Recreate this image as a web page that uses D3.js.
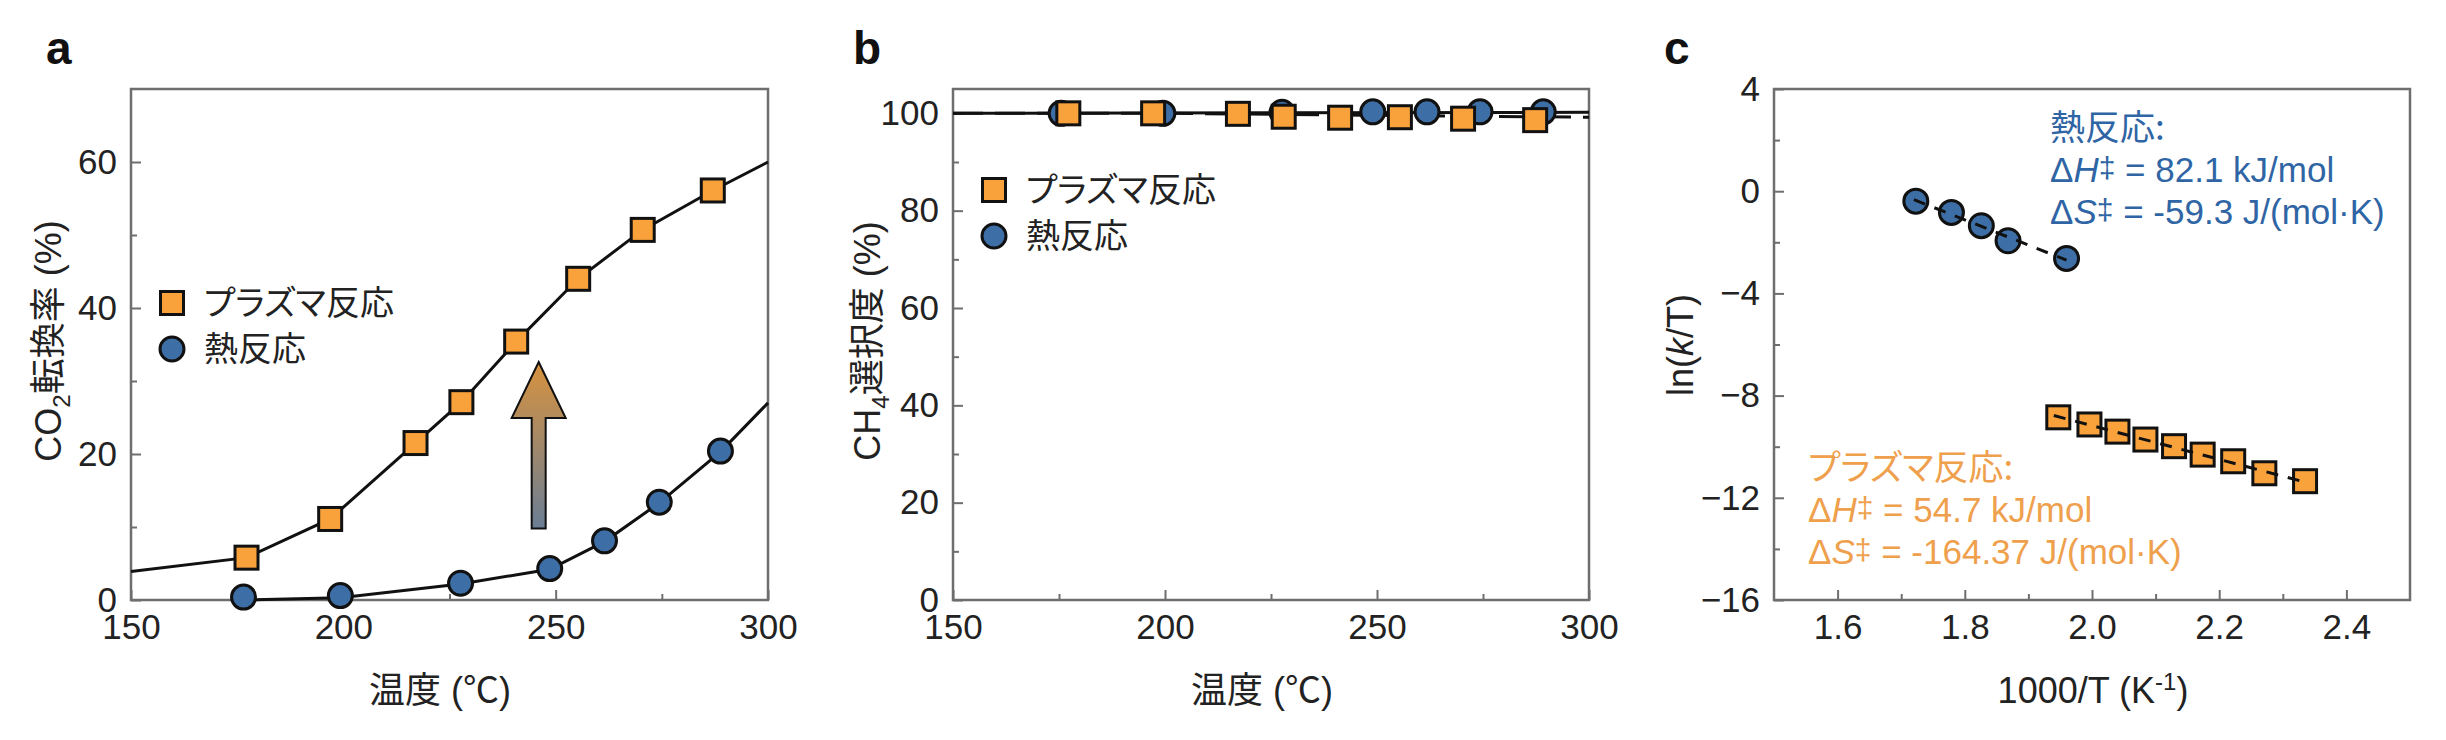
<!DOCTYPE html>
<html><head><meta charset="utf-8">
<script src="https://cdn.jsdelivr.net/npm/d3@7"></script>
<style>
html,body{margin:0;padding:0;background:#fff;}
svg{display:block;}
text{font-family:'Liberation Sans','Noto Sans CJK JP',sans-serif;}
.jp{font-family:'Noto Sans CJK JP','Liberation Sans',sans-serif;font-feature-settings:"palt";}
</style></head><body>
<svg id="chart" width="2446" height="740"></svg>
<script>
// ---------- data ----------
const tempTicks = [150, 200, 250, 300];
const tempMinor = [175, 225, 275];
const convTicks = [0, 20, 40, 60];
const convMinor = [10, 30, 50];
const selTicks = [0, 20, 40, 60, 80, 100];
const selMinor = [10, 30, 50, 70, 90];
const invTTicks = [1.6, 1.8, 2.0, 2.2, 2.4];
const invTMinor = [1.7, 1.9, 2.1, 2.3];
const lnTicks = [-16, -12, -8, -4, 0, 4];
const lnMinor = [-14, -10, -6, -2, 2];

const seriesNames = ["プラズマ反応", "熱反応"];

// panel a: CO2 conversion
const plasmaTempA = [177.2, 196.9, 217.0, 227.8, 240.7, 255.3, 270.5, 287.0];
const plasmaConv = [5.8, 11.1, 21.5, 27.1, 35.4, 44.0, 50.7, 56.1];
const plasmaCurveT = [150, 177.2, 196.9, 217.0, 227.8, 240.7, 255.3, 270.5, 287.0, 300];
const plasmaCurveV = [3.9, 5.8, 11.1, 21.5, 27.1, 35.4, 44.0, 50.7, 56.1, 60.0];
const thermalTempA = [176.5, 199.3, 227.6, 248.6, 261.5, 274.4, 288.8];
const thermalConv = [0.4, 0.6, 2.3, 4.3, 8.1, 13.4, 20.4];
const thermalCurveT = [176.5, 199.3, 227.6, 248.6, 261.5, 274.4, 288.8, 300];
const thermalCurveV = [0.0, 0.3, 2.2, 4.2, 8.0, 13.3, 20.3, 27.0];
const arrowT = 246, arrowFrom = 9.8, arrowTo = 32.6;

// panel b: CH4 selectivity
const plasmaTempB = [177.2, 197.2, 217.2, 228.0, 241.3, 255.4, 270.3, 287.3];
const plasmaSel = [100.0, 100.0, 99.9, 99.3, 99.1, 99.2, 98.9, 98.6];
const thermalTempB = [175.5, 199.5, 227.6, 249.0, 261.8, 274.3, 289.2];
const thermalSel = [100.0, 100.0, 100.2, 100.3, 100.3, 100.3, 100.3];
const plasmaSelLineT = [150, 200, 300], plasmaSelLineV = [100.0, 100.0, 99.2];
const thermalSelLineT = [150, 300], thermalSelLineV = [100.0, 100.2];

// panel c: Eyring plot
const thermalInvT = [1.723, 1.779, 1.826, 1.868, 1.960];
const thermalLn = [-0.39, -0.83, -1.35, -1.94, -2.63];
const thermalFitX = [1.72, 1.96], thermalFitY = [-0.33, -2.70];
const plasmaInvT = [1.947, 1.996, 2.040, 2.084, 2.129, 2.174, 2.222, 2.271, 2.335];
const plasmaLn = [-8.85, -9.13, -9.41, -9.72, -9.98, -10.31, -10.57, -11.04, -11.35];
const plasmaFitX = [1.94, 2.34], plasmaFitY = [-8.78, -11.42];

const thermalAnno = ["熱反応:", "82.1 kJ/mol", "-59.3 J/(mol·K)"];
const plasmaAnno = ["プラズマ反応:", "54.7 kJ/mol", "-164.37 J/(mol·K)"];

// ---------- style ----------
const ORANGE = "#F9A23C", BLUE = "#3D6FA6", EDGE = "#111";
const TXT_BLUE = "#2F65A4", TXT_ORANGE = "#EFA04C";
const FRAME = "#6e6e6e";
const svg = d3.select("#chart");

const defs = svg.append("defs");
const grad = defs.append("linearGradient").attr("id", "arrowGrad")
  .attr("x1", 0).attr("y1", 0).attr("x2", 0).attr("y2", 1);
grad.append("stop").attr("offset", "0%").attr("stop-color", "#D8923E");
grad.append("stop").attr("offset", "100%").attr("stop-color", "#6A7E95");

const zip = (a, b) => a.map((v, i) => [v, b[i]]);

function makePanel(box, xDomain, yDomain, xt, xm, yt, ym, xfmt, yfmt) {
  const x = d3.scaleLinear().domain(xDomain).range([box.l, box.r]);
  const y = d3.scaleLinear().domain(yDomain).range([box.b, box.t]);
  const g = svg.append("g");
  const ax = g.append("g").attr("transform", `translate(0,${box.b})`)
    .call(d3.axisBottom(x).tickValues(xt).tickSizeInner(-10).tickSizeOuter(0).tickPadding(14).tickFormat(xfmt));
  const axm = g.append("g").attr("transform", `translate(0,${box.b})`)
    .call(d3.axisBottom(x).tickValues(xm).tickSizeInner(-6).tickSizeOuter(0).tickFormat(""));
  const ay = g.append("g").attr("transform", `translate(${box.l},0)`)
    .call(d3.axisLeft(y).tickValues(yt).tickSizeInner(-10).tickSizeOuter(0).tickPadding(14).tickFormat(yfmt));
  const aym = g.append("g").attr("transform", `translate(${box.l},0)`)
    .call(d3.axisLeft(y).tickValues(ym).tickSizeInner(-6).tickSizeOuter(0).tickFormat(""));
  [ax, axm, ay, aym].forEach(a => {
    a.select(".domain").remove();
    a.selectAll(".tick line").attr("stroke", FRAME).attr("stroke-width", 2);
    a.selectAll(".tick text").attr("font-size", 35).attr("fill", "#222")
      .attr("font-family", "'Liberation Sans',sans-serif");
  });
  g.append("rect").attr("x", box.l).attr("y", box.t)
    .attr("width", box.r - box.l).attr("height", box.b - box.t)
    .attr("fill", "none").attr("stroke", FRAME).attr("stroke-width", 2.5);
  const plot = svg.append("g");
  return {x, y, g: plot};
}

function squares(g, pts, x, y) {
  const s = 23;
  g.selectAll(null).data(pts).join("rect")
    .attr("x", d => x(d[0]) - s / 2).attr("y", d => y(d[1]) - s / 2)
    .attr("width", s).attr("height", s)
    .attr("fill", ORANGE).attr("stroke", EDGE).attr("stroke-width", 3);
}
function circles(g, pts, x, y) {
  g.selectAll(null).data(pts).join("circle")
    .attr("cx", d => x(d[0])).attr("cy", d => y(d[1])).attr("r", 12)
    .attr("fill", BLUE).attr("stroke", EDGE).attr("stroke-width", 3);
}
function legend(px, py) {
  const g = svg.append("g");
  g.append("rect").attr("x", px - 11.5).attr("y", py - 11.5).attr("width", 23).attr("height", 23)
    .attr("fill", ORANGE).attr("stroke", EDGE).attr("stroke-width", 3);
  g.append("circle").attr("cx", px).attr("cy", py + 46).attr("r", 12)
    .attr("fill", BLUE).attr("stroke", EDGE).attr("stroke-width", 3);
  g.append("text").attr("class", "jp").attr("x", px + 32).attr("y", py).attr("dy", "0.36em")
    .attr("font-size", 34).attr("fill", "#222").text(seriesNames[0]);
  g.append("text").attr("class", "jp").attr("x", px + 32).attr("y", py + 46).attr("dy", "0.36em")
    .attr("font-size", 34).attr("fill", "#222").text(seriesNames[1]);
}
function panelLabel(t, px) {
  svg.append("text").attr("x", px).attr("y", 64).attr("font-size", 46).attr("font-weight", "bold")
    .attr("font-family", "'Liberation Sans',sans-serif").attr("fill", "#111").text(t);
}
const line = (x, y) => d3.line().x(d => x(d[0])).y(d => y(d[1]));

// ---------- panel a ----------
const boxA = {l: 131, r: 768, t: 89, b: 600};
const A = makePanel(boxA, [150, 300], [0, 70], tempTicks, tempMinor, convTicks, convMinor, d3.format("d"), d3.format("d"));
A.g.append("path").attr("d", line(A.x, A.y)(zip(plasmaCurveT, plasmaCurveV)))
  .attr("fill", "none").attr("stroke", "#111").attr("stroke-width", 3);
A.g.append("path").attr("d", line(A.x, A.y)(zip(thermalCurveT, thermalCurveV)))
  .attr("fill", "none").attr("stroke", "#111").attr("stroke-width", 3);
circles(A.g, zip(thermalTempA, thermalConv), A.x, A.y);
squares(A.g, zip(plasmaTempA, plasmaConv), A.x, A.y);
{
  const ax = A.x(arrowT), tip = A.y(arrowTo), bot = A.y(arrowFrom);
  const headL = 56, headW = 27, shaftW = 7;
  const p = d3.path();
  p.moveTo(ax, tip); p.lineTo(ax + headW, tip + headL); p.lineTo(ax + shaftW, tip + headL);
  p.lineTo(ax + shaftW, bot); p.lineTo(ax - shaftW, bot); p.lineTo(ax - shaftW, tip + headL);
  p.lineTo(ax - headW, tip + headL); p.closePath();
  A.g.append("path").attr("d", p.toString()).attr("fill", "url(#arrowGrad)")
    .attr("stroke", "#111").attr("stroke-width", 2).attr("stroke-linejoin", "miter");
}
legend(172, 303);
panelLabel("a", 46);
{
  const t = svg.append("text").attr("transform", "translate(48,341) rotate(-90)")
    .attr("text-anchor", "middle").attr("dy", "0.36em").attr("font-size", 36).attr("fill", "#222");
  t.append("tspan").text("CO");
  t.append("tspan").attr("font-size", 24).attr("dy", 9).text("2");
  t.append("tspan").attr("dy", -9).text("転換率 (%)");
}
svg.append("text").attr("x", 440).attr("y", 690).attr("dy", "0.36em").attr("text-anchor", "middle")
  .attr("font-size", 36).attr("fill", "#222").text("温度 (℃)");

// ---------- panel b ----------
const boxB = {l: 953, r: 1589, t: 89, b: 600};
const B = makePanel(boxB, [150, 300], [0, 105], tempTicks, tempMinor, selTicks, selMinor, d3.format("d"), d3.format("d"));
B.g.append("path").attr("d", line(B.x, B.y)(zip(thermalSelLineT, thermalSelLineV)))
  .attr("fill", "none").attr("stroke", "#111").attr("stroke-width", 3);
B.g.append("path").attr("d", line(B.x, B.y)(zip(plasmaSelLineT, plasmaSelLineV)))
  .attr("fill", "none").attr("stroke", "#111").attr("stroke-width", 3).attr("stroke-dasharray", "30,12");
circles(B.g, zip(thermalTempB, thermalSel), B.x, B.y);
squares(B.g, zip(plasmaTempB, plasmaSel), B.x, B.y);
legend(994, 190);
panelLabel("b", 853);
{
  const t = svg.append("text").attr("transform", "translate(867,341) rotate(-90)")
    .attr("text-anchor", "middle").attr("dy", "0.36em").attr("font-size", 36).attr("fill", "#222");
  t.append("tspan").text("CH");
  t.append("tspan").attr("font-size", 24).attr("dy", 9).text("4");
  t.append("tspan").attr("dy", -9).text("選択度 (%)");
}
svg.append("text").attr("x", 1262).attr("y", 690).attr("dy", "0.36em").attr("text-anchor", "middle")
  .attr("font-size", 36).attr("fill", "#222").text("温度 (℃)");

// ---------- panel c ----------
const boxC = {l: 1774, r: 2410, t: 89, b: 600};
const C = makePanel(boxC, [1.5, 2.5], [-16, 4], invTTicks, invTMinor, lnTicks, lnMinor, d3.format(".1f"), d3.format("d"));
circles(C.g, zip(thermalInvT, thermalLn), C.x, C.y);
squares(C.g, zip(plasmaInvT, plasmaLn), C.x, C.y);
C.g.append("path").attr("d", line(C.x, C.y)(zip(thermalFitX, thermalFitY)))
  .attr("fill", "none").attr("stroke", "#111").attr("stroke-width", 3).attr("stroke-dasharray", "12,10");
C.g.append("path").attr("d", line(C.x, C.y)(zip(plasmaFitX, plasmaFitY)))
  .attr("fill", "none").attr("stroke", "#111").attr("stroke-width", 3).attr("stroke-dasharray", "12,10");

function anno(lines, px, py, color) {
  const g = svg.append("g").attr("fill", color);
  g.append("text").attr("class", "jp").attr("x", px).attr("y", py).attr("font-size", 35).text(lines[0]);
  ["H", "S"].forEach((sym, i) => {
    const t = g.append("text").attr("x", px).attr("y", py + 42 * (i + 1)).attr("font-size", 35);
    t.append("tspan").text("Δ");
    t.append("tspan").attr("font-style", "italic").text(sym);
    t.append("tspan").attr("font-size", 30).attr("dy", -4).text("‡");
    t.append("tspan").attr("dy", 4).text(" = " + lines[i + 1]);
  });
}
anno(thermalAnno, 2050, 140, TXT_BLUE);
anno(plasmaAnno, 1808, 480, TXT_ORANGE);

panelLabel("c", 1664);
{
  const t = svg.append("text").attr("transform", "translate(1680,345) rotate(-90)")
    .attr("text-anchor", "middle").attr("dy", "0.36em").attr("font-size", 36).attr("fill", "#222");
  t.append("tspan").text("ln(");
  t.append("tspan").attr("font-style", "italic").text("k");
  t.append("tspan").text("/T)");
}
{
  const t = svg.append("text").attr("x", 2093).attr("y", 690).attr("dy", "0.36em").attr("text-anchor", "middle")
    .attr("font-size", 36).attr("fill", "#222");
  t.append("tspan").text("1000/T (K");
  t.append("tspan").attr("font-size", 24).attr("dy", -13).text("-1");
  t.append("tspan").attr("dy", 13).text(")");
}
</script>
</body></html>
